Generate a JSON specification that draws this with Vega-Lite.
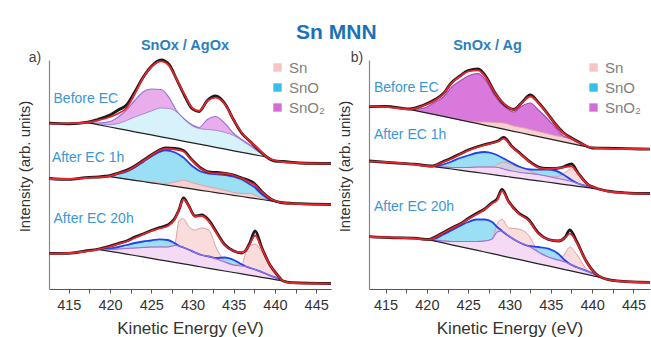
{
"$schema": "https://vega.github.io/schema/vega-lite/v6.json",
"padding": {"left": 17, "top": 22, "right": 0, "bottom": 1},
"title": {"text": "Sn MNN", "fontSize": 21, "fontWeight": "bold", "color": "#1c72b8", "offset": -5, "anchor": "middle"},
"datasets": {
"A": [
{"s":"a1","E":412.6,"fit":165.3,"obs":165.8},
{"s":"a1","E":415,"fit":165.7,"obs":165.2},
{"s":"a1","E":417.3,"fit":166.5,"obs":166.8,"bg":166.3,"o0":166.3,"o1":166.3,"x0":166.3,"x1":166.3},
{"s":"a1","E":418.5,"fit":168.5,"obs":169.5,"bg":164.4,"o0":164.4,"o1":165.2,"x0":165.2,"x1":166},
{"s":"a1","E":420,"fit":172,"obs":174,"bg":162,"o0":162,"o1":164.5,"x0":164.5,"x1":167.5},
{"s":"a1","E":421,"fit":175.5,"obs":179,"bg":160.4,"o0":160.4,"o1":165.5,"x0":165.5,"x1":172},
{"s":"a1","E":422,"fit":181,"obs":184,"bg":158.8,"o0":158.8,"o1":168.5,"x0":168.5,"x1":179},
{"s":"a1","E":423,"fit":195,"obs":197,"bg":157.2,"o0":157.2,"o1":172,"x0":172,"x1":188.5},
{"s":"a1","E":424,"fit":211,"obs":211.5,"bg":155.7,"o0":155.7,"o1":175,"x0":175,"x1":197},
{"s":"a1","E":425,"fit":222,"obs":222.5,"bg":154.1,"o0":154.1,"o1":178,"x0":178,"x1":200},
{"s":"a1","E":426.2,"fit":227.7,"obs":229,"bg":152.2,"o0":152.2,"o1":181,"x0":181,"x1":199.5},
{"s":"a1","E":427.2,"fit":223,"obs":224,"bg":150.6,"o0":150.6,"o1":180.5,"x0":180.5,"x1":191},
{"s":"a1","E":428,"fit":211,"obs":211,"bg":149.3,"o0":149.3,"o1":177.5,"x0":177.5,"x1":179},
{"s":"a1","E":429,"fit":195,"obs":194,"bg":147.7,"o0":147.7,"o1":170,"x0":170,"x1":170},
{"s":"a1","E":430,"fit":181,"obs":180,"bg":146.1,"o0":146.1,"o1":163,"x0":163,"x1":164},
{"s":"a1","E":430.8,"fit":178,"obs":177.5,"bg":144.9,"o0":144.9,"o1":160.5,"x0":160.5,"x1":161.5},
{"s":"a1","E":431.8,"fit":188,"obs":188.5,"bg":143.3,"o0":143.3,"o1":159.5,"x0":159.5,"x1":169.5},
{"s":"a1","E":432.8,"fit":191.3,"obs":193,"bg":141.7,"o0":141.7,"o1":158.7,"x0":158.7,"x1":172.5},
{"s":"a1","E":434,"fit":184,"obs":184.5,"bg":139.8,"o0":139.8,"o1":156.5,"x0":156.5,"x1":165},
{"s":"a1","E":435,"fit":169,"obs":169,"bg":138.2,"o0":138.2,"o1":153.5,"x0":153.5,"x1":155.5},
{"s":"a1","E":436,"fit":156,"obs":155.5,"bg":136.7,"o0":136.7,"o1":148.5,"x0":148.5,"x1":149.5},
{"s":"a1","E":437,"fit":147.5,"obs":147.5,"bg":135.1,"o0":135.1,"o1":143,"x0":143,"x1":144},
{"s":"a1","E":438,"fit":140,"obs":139.5,"bg":133.5,"o0":133.5,"o1":137,"x0":137,"x1":137.5},
{"s":"a1","E":439,"fit":132,"obs":132,"bg":132,"o0":132,"o1":132,"x0":132,"x1":132},
{"s":"a1","E":440,"fit":128.5,"obs":128},
{"s":"a1","E":441,"fit":127,"obs":127.5},
{"s":"a1","E":443,"fit":126,"obs":126},
{"s":"a1","E":446.8,"fit":125.3,"obs":125.5},
{"s":"a2","E":412.6,"fit":110,"obs":110.5},
{"s":"a2","E":415,"fit":110,"obs":109.6},
{"s":"a2","E":417,"fit":111,"obs":111.3},
{"s":"a2","E":419.8,"fit":112.7,"obs":113,"bg":112.7,"s0":112.7,"s1":112.7,"o0":112.7,"o1":112.7},
{"s":"a2","E":421,"fit":115.5,"obs":116,"bg":111.2,"s0":111.2,"s1":111.2,"o0":111.2,"o1":115},
{"s":"a2","E":422.2,"fit":118.7,"obs":119.5,"bg":109.7,"s0":109.7,"s1":109.7,"o0":109.7,"o1":118},
{"s":"a2","E":423,"fit":122.5,"obs":123,"bg":108.7,"s0":108.7,"s1":108.7,"o0":108.7,"o1":121.5},
{"s":"a2","E":424,"fit":128,"obs":128.5,"bg":107.5,"s0":107.5,"s1":107.7,"o0":107.7,"o1":127},
{"s":"a2","E":425,"fit":133.5,"obs":134,"bg":106.2,"s0":106.2,"s1":106.7,"o0":106.7,"o1":132.5},
{"s":"a2","E":426,"fit":138.5,"obs":139,"bg":105,"s0":105,"s1":106,"o0":106,"o1":137},
{"s":"a2","E":426.7,"fit":140.3,"obs":141,"bg":104.1,"s0":104.1,"s1":105.5,"o0":105.5,"o1":138.7},
{"s":"a2","E":427.9,"fit":139.5,"obs":140.5,"bg":102.6,"s0":102.6,"s1":107,"o0":107,"o1":136.5},
{"s":"a2","E":428.9,"fit":137.5,"obs":138.5,"bg":101.3,"s0":101.3,"s1":108.7,"o0":108.7,"o1":131.5},
{"s":"a2","E":429.9,"fit":129,"obs":129.5,"bg":100.1,"s0":100.1,"s1":106.5,"o0":106.5,"o1":123.5},
{"s":"a2","E":431,"fit":120.5,"obs":121,"bg":98.7,"s0":98.7,"s1":104,"o0":104,"o1":117.5},
{"s":"a2","E":432,"fit":116.5,"obs":117,"bg":97.5,"s0":97.5,"s1":102,"o0":102,"o1":115.5},
{"s":"a2","E":433,"fit":115.5,"obs":116.5,"bg":96.2,"s0":96.2,"s1":100.5,"o0":100.5,"o1":114.7},
{"s":"a2","E":434,"fit":115.5,"obs":115.5,"bg":95,"s0":95,"s1":98.5,"o0":98.5,"o1":114},
{"s":"a2","E":435,"fit":113.5,"obs":114,"bg":93.7,"s0":93.7,"s1":96.5,"o0":96.5,"o1":112.3},
{"s":"a2","E":436,"fit":110.5,"obs":111,"bg":92.5,"s0":92.5,"s1":95.5,"o0":95.5,"o1":109.5},
{"s":"a2","E":437,"fit":106.5,"obs":108,"bg":91.2,"s0":91.2,"s1":95.5,"o0":95.5,"o1":104.5},
{"s":"a2","E":437.5,"fit":104.5,"obs":105.5,"bg":90.6,"s0":90.6,"s1":94,"o0":94,"o1":102},
{"s":"a2","E":438.4,"fit":97,"obs":97.5,"bg":89.5,"s0":89.5,"s1":91,"o0":91,"o1":94.7},
{"s":"a2","E":439.6,"fit":89.5,"obs":89.5,"bg":88,"s0":88,"s1":88,"o0":88,"o1":88.7},
{"s":"a2","E":441.2,"fit":86,"obs":86,"bg":86,"s0":86,"s1":86,"o0":86,"o1":86},
{"s":"a2","E":443,"fit":85,"obs":85.3},
{"s":"a2","E":446.8,"fit":84.3,"obs":84.5},
{"s":"a3","E":412.6,"fit":35.3,"obs":35.6},
{"s":"a3","E":415,"fit":36,"obs":35.6},
{"s":"a3","E":417,"fit":37.5,"obs":38},
{"s":"a3","E":418.6,"fit":39.7,"obs":40,"bg":39.7,"x0":39.7,"x1":39.7,"o0":39.7,"o1":39.7,"s0":39.7,"s1":39.7},
{"s":"a3","E":420,"fit":42.5,"obs":43,"bg":37.7,"x0":37.7,"x1":39.5,"o0":39.5,"o1":40.5,"s0":39.5,"s1":39.5},
{"s":"a3","E":421,"fit":45,"obs":45.5,"bg":36.3,"x0":36.3,"x1":40,"o0":40,"o1":42,"s0":40,"s1":40},
{"s":"a3","E":422,"fit":47.5,"obs":48,"bg":34.9,"x0":34.9,"x1":40.5,"o0":40.5,"o1":44,"s0":40.5,"s1":40.5},
{"s":"a3","E":423,"fit":51,"obs":52,"bg":33.5,"x0":33.5,"x1":41,"o0":41,"o1":46,"s0":41,"s1":41},
{"s":"a3","E":424,"fit":54.5,"obs":55,"bg":32.1,"x0":32.1,"x1":41.5,"o0":41.5,"o1":47.5,"s0":41.5,"s1":41.5},
{"s":"a3","E":425,"fit":58,"obs":58.5,"bg":30.6,"x0":30.6,"x1":42,"o0":42,"o1":48.5,"s0":42,"s1":42},
{"s":"a3","E":426,"fit":60.5,"obs":61.5,"bg":29.2,"x0":29.2,"x1":42,"o0":42,"o1":49.7,"s0":42,"s1":42},
{"s":"a3","E":427,"fit":63,"obs":64,"bg":27.8,"x0":27.8,"x1":42,"o0":42,"o1":49,"s0":42,"s1":42},
{"s":"a3","E":427.8,"fit":69,"obs":70,"bg":26.7,"x0":26.7,"x1":43.5,"o0":43.5,"o1":46,"s0":43.5,"s1":43.5},
{"s":"a3","E":428.4,"fit":80,"obs":80,"bg":25.8,"x0":25.8,"x1":43,"o0":43,"o1":43,"s0":43,"s1":68.7},
{"s":"a3","E":428.9,"fit":89.7,"obs":91,"bg":25.1,"x0":25.1,"x1":41.5,"o0":41.5,"o1":41.5,"s0":41.5,"s1":70.3},
{"s":"a3","E":429.5,"fit":83.5,"obs":84,"bg":24.3,"x0":24.3,"x1":39.5,"o0":39.5,"o1":39.5,"s0":39.5,"s1":63},
{"s":"a3","E":430.3,"fit":72.5,"obs":73,"bg":23.1,"x0":23.1,"x1":36.5,"o0":36.5,"o1":36.5,"s0":36.5,"s1":59},
{"s":"a3","E":431.1,"fit":73,"obs":74,"bg":22,"x0":22,"x1":34,"o0":34,"o1":34,"s0":34,"s1":61},
{"s":"a3","E":432,"fit":67.5,"obs":68.5,"bg":20.7,"x0":20.7,"x1":32.5,"o0":32.5,"o1":32.5,"s0":32.5,"s1":58.7},
{"s":"a3","E":432.9,"fit":56,"obs":57,"bg":19.4,"x0":19.4,"x1":30,"o0":30,"o1":31,"s0":30,"s1":41},
{"s":"a3","E":433.9,"fit":44,"obs":44.5,"bg":18,"x0":18,"x1":27,"o0":27,"o1":31.5,"s0":27,"s1":28},
{"s":"a3","E":435,"fit":38,"obs":38,"bg":16.5,"x0":16.5,"x1":24,"o0":24,"o1":29,"s0":24,"s1":24},
{"s":"a3","E":436,"fit":36.5,"obs":36,"bg":15.1,"x0":15.1,"x1":23,"o0":23,"o1":24.5,"s0":23,"s1":25},
{"s":"a3","E":436.5,"fit":39,"obs":39,"bg":14.4,"x0":14.4,"x1":22.5,"o0":22.5,"o1":22.5,"s0":22.5,"s1":37},
{"s":"a3","E":437,"fit":45.5,"obs":47,"bg":13.7,"x0":13.7,"x1":21,"o0":21,"o1":21,"s0":21,"s1":43},
{"s":"a3","E":437.6,"fit":53.5,"obs":58,"bg":12.8,"x0":12.8,"x1":19.5,"o0":19.5,"o1":19.5,"s0":19.5,"s1":45},
{"s":"a3","E":438.4,"fit":40.5,"obs":41.5,"bg":11.7,"x0":11.7,"x1":17,"o0":17,"o1":17,"s0":17,"s1":37},
{"s":"a3","E":439.4,"fit":24,"obs":24,"bg":10.3,"x0":10.3,"x1":13.5,"o0":13.5,"o1":13.5,"s0":13.5,"s1":23},
{"s":"a3","E":440.2,"fit":15,"obs":15,"bg":9.1,"x0":9.1,"x1":11,"o0":11,"o1":11,"s0":11,"s1":14.5},
{"s":"a3","E":441,"fit":8,"obs":8,"bg":8,"x0":8,"x1":8,"o0":8,"o1":8,"s0":8,"s1":8},
{"s":"a3","E":442,"fit":6,"obs":6.3},
{"s":"a3","E":446.8,"fit":5.3,"obs":5.5}
],
"B": [
{"s":"b1","E":413,"fit":182.7,"obs":182.4},
{"s":"b1","E":415,"fit":182.2,"obs":182.6},
{"s":"b1","E":417.9,"fit":179.7,"obs":180,"bg":179.7,"s0":179.7,"s1":179.7,"x0":179.7,"x1":179.7},
{"s":"b1","E":419.5,"fit":183,"obs":183.5,"bg":176.9,"s0":176.9,"s1":176.9,"x0":176.9,"x1":180.5},
{"s":"b1","E":421,"fit":188.7,"obs":189.5,"bg":174.3,"s0":174.3,"s1":174.3,"x0":174.3,"x1":187},
{"s":"b1","E":422,"fit":195,"obs":195.5,"bg":172.7,"s0":172.7,"s1":172.7,"x0":172.7,"x1":192},
{"s":"b1","E":423,"fit":206,"obs":206.5,"bg":170.9,"s0":170.9,"s1":170.9,"x0":170.9,"x1":202},
{"s":"b1","E":424,"fit":212.5,"obs":213,"bg":169.1,"s0":169.1,"s1":169.1,"x0":169.1,"x1":208},
{"s":"b1","E":425,"fit":217.5,"obs":218.5,"bg":167.4,"s0":167.4,"s1":168,"x0":168,"x1":213},
{"s":"b1","E":426.2,"fit":218.7,"obs":220,"bg":165.3,"s0":165.3,"s1":167,"x0":167,"x1":215.3},
{"s":"b1","E":427.1,"fit":212,"obs":213,"bg":163.7,"s0":163.7,"s1":167,"x0":167,"x1":209},
{"s":"b1","E":428.3,"fit":195.3,"obs":195.5,"bg":161.6,"s0":161.6,"s1":166.5,"x0":166.5,"x1":192},
{"s":"b1","E":429.3,"fit":185.5,"obs":185,"bg":159.8,"s0":159.8,"s1":166,"x0":166,"x1":183},
{"s":"b1","E":430.5,"fit":179.2,"obs":179.5,"bg":157.7,"s0":157.7,"s1":163,"x0":163,"x1":177},
{"s":"b1","E":431.5,"fit":186,"obs":186.5,"bg":156,"s0":156,"s1":161.5,"x0":161.5,"x1":183},
{"s":"b1","E":432.5,"fit":192.5,"obs":194,"bg":154.2,"s0":154.2,"s1":159.5,"x0":159.5,"x1":186},
{"s":"b1","E":433.5,"fit":186,"obs":186.5,"bg":152.4,"s0":152.4,"s1":157.5,"x0":157.5,"x1":179},
{"s":"b1","E":434.5,"fit":176,"obs":176.5,"bg":150.7,"s0":150.7,"s1":155.5,"x0":155.5,"x1":171},
{"s":"b1","E":435.5,"fit":165.3,"obs":165.5,"bg":148.9,"s0":148.9,"s1":153.5,"x0":153.5,"x1":162},
{"s":"b1","E":436.5,"fit":156,"obs":156.5,"bg":147.2,"s0":147.2,"s1":152,"x0":152,"x1":153},
{"s":"b1","E":437.5,"fit":150.5,"obs":151,"bg":145.4,"s0":145.4,"s1":150,"x0":150,"x1":150},
{"s":"b1","E":438.5,"fit":146,"obs":146.5,"bg":143.6,"s0":143.6,"s1":145.5,"x0":145.5,"x1":145.5},
{"s":"b1","E":440,"fit":141.3,"obs":141,"bg":141,"s0":141,"s1":141,"x0":141,"x1":141},
{"s":"b1","E":441.5,"fit":140.5,"obs":140.8},
{"s":"b1","E":444,"fit":140,"obs":140.3},
{"s":"b1","E":447,"fit":140,"obs":139.8},
{"s":"b2","E":413,"fit":127.7,"obs":128},
{"s":"b2","E":416,"fit":126.5,"obs":126.2},
{"s":"b2","E":418.5,"fit":124.5,"obs":124.8},
{"s":"b2","E":420.6,"fit":122.7,"obs":123,"bg":122.7,"x0":122.7,"x1":122.7,"o0":122.7,"o1":122.7,"s0":122.7,"s1":122.7},
{"s":"b2","E":422,"fit":127,"obs":127.5,"bg":121.1,"x0":121.1,"x1":122,"o0":122,"o1":124.5,"s0":122,"s1":122},
{"s":"b2","E":423,"fit":130.3,"obs":131,"bg":120,"x0":120,"x1":121.5,"o0":121.5,"o1":127.5,"s0":121.5,"s1":121.5},
{"s":"b2","E":424,"fit":134.5,"obs":135,"bg":118.9,"x0":118.9,"x1":121.5,"o0":121.5,"o1":131,"s0":121.5,"s1":121.5},
{"s":"b2","E":425,"fit":138.5,"obs":139,"bg":117.7,"x0":117.7,"x1":121.5,"o0":121.5,"o1":133.5,"s0":121.5,"s1":121.5},
{"s":"b2","E":426,"fit":141.5,"obs":142,"bg":116.6,"x0":116.6,"x1":122,"o0":122,"o1":136,"s0":122,"s1":122},
{"s":"b2","E":427,"fit":144,"obs":144.5,"bg":115.5,"x0":115.5,"x1":122,"o0":122,"o1":137,"s0":122,"s1":122},
{"s":"b2","E":428,"fit":146,"obs":146.5,"bg":114.3,"x0":114.3,"x1":122,"o0":122,"o1":135.5,"s0":122,"s1":122},
{"s":"b2","E":428.6,"fit":147.5,"obs":148,"bg":113.7,"x0":113.7,"x1":121.5,"o0":121.5,"o1":133.5,"s0":121.5,"s1":125},
{"s":"b2","E":429.3,"fit":150.3,"obs":151.5,"bg":112.9,"x0":112.9,"x1":120,"o0":120,"o1":130.5,"s0":120,"s1":127},
{"s":"b2","E":430.3,"fit":142,"obs":142.5,"bg":111.7,"x0":111.7,"x1":118,"o0":118,"o1":126,"s0":118,"s1":124},
{"s":"b2","E":431.3,"fit":135,"obs":135.5,"bg":110.6,"x0":110.6,"x1":116.5,"o0":116.5,"o1":122,"s0":116.5,"s1":121.5},
{"s":"b2","E":432.5,"fit":126.5,"obs":127,"bg":109.2,"x0":109.2,"x1":115.5,"o0":115.5,"o1":119.5,"s0":115.5,"s1":118},
{"s":"b2","E":433.5,"fit":121.5,"obs":122,"bg":108.1,"x0":108.1,"x1":114.5,"o0":114.5,"o1":119.3,"s0":114.5,"s1":114.5},
{"s":"b2","E":434.5,"fit":120,"obs":120.5,"bg":107,"x0":107,"x1":113,"o0":113,"o1":119.3,"s0":113,"s1":113},
{"s":"b2","E":435.5,"fit":120.5,"obs":120.5,"bg":105.8,"x0":105.8,"x1":111,"o0":111,"o1":118.5,"s0":111,"s1":112},
{"s":"b2","E":436.5,"fit":121.5,"obs":122,"bg":104.7,"x0":104.7,"x1":109.5,"o0":109.5,"o1":114.5,"s0":109.5,"s1":115},
{"s":"b2","E":437.5,"fit":122.7,"obs":125,"bg":103.6,"x0":103.6,"x1":107.5,"o0":107.5,"o1":109,"s0":107.5,"s1":120.3},
{"s":"b2","E":438.3,"fit":115.3,"obs":116,"bg":102.7,"x0":102.7,"x1":105.5,"o0":105.5,"o1":105.5,"s0":105.5,"s1":115},
{"s":"b2","E":439.5,"fit":104.5,"obs":104.5,"bg":101.3,"x0":101.3,"x1":102.5,"o0":102.5,"o1":102.5,"s0":102.5,"s1":104},
{"s":"b2","E":440.4,"fit":101,"obs":101,"bg":100.3,"x0":100.3,"x1":100.3,"o0":100.3,"o1":100.3,"s0":100.3,"s1":100.3},
{"s":"b2","E":442,"fit":97.5,"obs":97.8},
{"s":"b2","E":444,"fit":96,"obs":96.2},
{"s":"b2","E":447,"fit":95.3,"obs":95.5},
{"s":"b3","E":413,"fit":52,"obs":52.3},
{"s":"b3","E":416,"fit":51.5,"obs":51.2},
{"s":"b3","E":418.5,"fit":50.5,"obs":50.8},
{"s":"b3","E":420.2,"fit":49.3,"obs":49.5,"bg":49.3,"x0":49.3,"x1":49.3,"o0":49.3,"o1":49.3,"s0":49.3,"s1":49.3},
{"s":"b3","E":421,"fit":51.5,"obs":52,"bg":47.9,"x0":47.9,"x1":48.7,"o0":48.7,"o1":50.3,"s0":48.7,"s1":48.7},
{"s":"b3","E":422,"fit":56,"obs":56.5,"bg":46.1,"x0":46.1,"x1":48,"o0":48,"o1":54.5,"s0":48,"s1":48},
{"s":"b3","E":423,"fit":60.5,"obs":61,"bg":44.2,"x0":44.2,"x1":47.5,"o0":47.5,"o1":58.7,"s0":47.5,"s1":47.5},
{"s":"b3","E":424,"fit":64.5,"obs":65,"bg":42.4,"x0":42.4,"x1":47.5,"o0":47.5,"o1":63,"s0":47.5,"s1":47.5},
{"s":"b3","E":425,"fit":70,"obs":70.5,"bg":40.6,"x0":40.6,"x1":47.5,"o0":47.5,"o1":67,"s0":47.5,"s1":47.5},
{"s":"b3","E":426,"fit":74.5,"obs":75.5,"bg":38.8,"x0":38.8,"x1":47.5,"o0":47.5,"o1":69.5,"s0":47.5,"s1":47.5},
{"s":"b3","E":427,"fit":79.5,"obs":80,"bg":37,"x0":37,"x1":48,"o0":48,"o1":69.5,"s0":48,"s1":48},
{"s":"b3","E":427.9,"fit":85.5,"obs":86.5,"bg":35.4,"x0":35.4,"x1":50,"o0":50,"o1":67,"s0":50,"s1":50},
{"s":"b3","E":428.5,"fit":88.7,"obs":90,"bg":34.3,"x0":34.3,"x1":57,"o0":57,"o1":62,"s0":57,"s1":65},
{"s":"b3","E":429.1,"fit":98,"obs":99.5,"bg":33.2,"x0":33.2,"x1":58,"o0":58,"o1":58,"s0":58,"s1":69.7},
{"s":"b3","E":429.9,"fit":87,"obs":87.5,"bg":31.7,"x0":31.7,"x1":53,"o0":53,"o1":53,"s0":53,"s1":61},
{"s":"b3","E":431.1,"fit":75.3,"obs":76,"bg":29.6,"x0":29.6,"x1":47,"o0":47,"o1":47,"s0":47,"s1":60},
{"s":"b3","E":432.3,"fit":68.7,"obs":69.5,"bg":27.4,"x0":27.4,"x1":43,"o0":43,"o1":43,"s0":43,"s1":54},
{"s":"b3","E":433.5,"fit":55.3,"obs":56,"bg":25.2,"x0":25.2,"x1":37,"o0":37,"o1":42,"s0":37,"s1":37},
{"s":"b3","E":434.7,"fit":49.5,"obs":49.5,"bg":23.1,"x0":23.1,"x1":32,"o0":32,"o1":40.3,"s0":32,"s1":32},
{"s":"b3","E":435.9,"fit":48,"obs":48,"bg":20.9,"x0":20.9,"x1":29,"o0":29,"o1":35.3,"s0":29,"s1":29},
{"s":"b3","E":436.7,"fit":51,"obs":51.5,"bg":19.4,"x0":19.4,"x1":27,"o0":27,"o1":28.7,"s0":27,"s1":35},
{"s":"b3","E":437.3,"fit":55.3,"obs":59,"bg":18.4,"x0":18.4,"x1":25,"o0":25,"o1":25,"s0":25,"s1":42},
{"s":"b3","E":438.1,"fit":47,"obs":48,"bg":16.9,"x0":16.9,"x1":22,"o0":22,"o1":22,"s0":22,"s1":35},
{"s":"b3","E":439.2,"fit":28.7,"obs":29,"bg":14.9,"x0":14.9,"x1":18.5,"o0":18.5,"o1":18.5,"s0":18.5,"s1":21},
{"s":"b3","E":440.4,"fit":15.3,"obs":15.5,"bg":12.7,"x0":12.7,"x1":14.5,"o0":14.5,"o1":14.5,"s0":14.5,"s1":14.5},
{"s":"b3","E":441.2,"fit":11.3,"obs":11.3,"bg":11.3,"x0":11.3,"x1":11.3,"o0":11.3,"o1":11.3,"s0":11.3,"s1":11.3},
{"s":"b3","E":443,"fit":8,"obs":8.2},
{"s":"b3","E":447,"fit":6.5,"obs":6.6}
],
"LA": [{"E":413.15,"I":190.3,"t":"Before EC"},{"E":412.95,"I":131.3,"t":"After EC 1h"},{"E":413.15,"I":70.3,"t":"After EC 20h"}],
"LB": [{"E":413.6,"I":201.3,"t":"Before EC"},{"E":413.6,"I":153.7,"t":"After EC 1h"},{"E":413.6,"I":82,"t":"After EC 20h"}],
"PA": [{"E":410.9,"I":231.5,"t":"a)"}],
"PB": [{"E":411.55,"I":231.5,"t":"b)"}]
},
"hconcat": [
{
"width": 282, "height": 229,
"title": {"text": "SnOx / AgOx", "fontSize": 14.5, "fontWeight": "bold", "color": "#2a7fc0", "offset": -3, "dx": -5, "anchor": "middle"},
"data": {"name": "A"},
"encoding": {"x": {"field": "E", "type": "quantitative", "scale": {"domain": [412.6, 446.8], "nice": false, "zero": false}, "title": "Kinetic Energy (eV)", "axis": {"values": [415,417.5,420,422.5,425,427.5,430,432.5,435,437.5,440,442.5,445], "labelExpr": "datum.value % 5 === 0 ? format(datum.value, 'd') : ''"}}},
"layer": [
{"mark": {"type": "area", "interpolate": "monotone"}, "encoding": {"y": {"field": "x1", "type": "quantitative", "scale": {"domain": [0, 229], "nice": false, "zero": false}, "title": "Intensity (arb. units)"}, "y2": {"field": "x0"}, "detail": {"field": "s"}, "color": {"datum": "SnO₂", "scale": {"domain": ["Sn", "SnO", "SnO₂"], "range": ["#f7c4c4", "#36bfe8", "#d66ad8"]}, "legend": {"title": null, "orient": "none", "legendX": 221, "legendY": 0}}, "fillOpacity": {"condition": [{"test": "datum.s === 'a1'", "value": 0.55}, {"test": "datum.s === 'b1'", "value": 0.9}], "value": 0.25}}},
{"mark": {"type": "area", "interpolate": "monotone"}, "encoding": {"y": {"field": "o1", "type": "quantitative", "scale": {"domain": [0, 229], "nice": false, "zero": false}, "title": "Intensity (arb. units)"}, "y2": {"field": "o0"}, "detail": {"field": "s"}, "color": {"datum": "SnO", "scale": {"domain": ["Sn", "SnO", "SnO₂"], "range": ["#f7c4c4", "#36bfe8", "#d66ad8"]}, "legend": {"title": null, "orient": "none", "legendX": 221, "legendY": 0}}, "fillOpacity": {"condition": {"test": "datum.s === 'a1'", "value": 0.2}, "value": 0.5}}},
{"mark": {"type": "area", "interpolate": "monotone"}, "encoding": {"y": {"field": "s1", "type": "quantitative", "scale": {"domain": [0, 229], "nice": false, "zero": false}, "title": "Intensity (arb. units)"}, "y2": {"field": "s0"}, "detail": {"field": "s"}, "color": {"datum": "Sn", "scale": {"domain": ["Sn", "SnO", "SnO₂"], "range": ["#f7c4c4", "#36bfe8", "#d66ad8"]}, "legend": {"title": null, "orient": "none", "legendX": 221, "legendY": 0}}, "fillOpacity": {"condition": {"test": "datum.s === 'a2' || datum.s === 'b1'", "value": 0.8}, "value": 0.6}}},
{"mark": {"type": "line", "interpolate": "monotone", "strokeWidth": 1, "color": "#dca0a6"}, "encoding": {"y": {"field": "s1", "type": "quantitative", "scale": {"domain": [0, 229], "nice": false, "zero": false}, "title": "Intensity (arb. units)"}, "detail": {"field": "s"}}},
{"mark": {"type": "line", "interpolate": "monotone"}, "encoding": {"y": {"field": "o1", "type": "quantitative", "scale": {"domain": [0, 229], "nice": false, "zero": false}, "title": "Intensity (arb. units)"}, "detail": {"field": "s"}, "stroke": {"condition": {"test": "datum.s === 'a1'", "value": "#a58bd6"}, "value": "#2242ee"}, "strokeWidth": {"condition": {"test": "datum.s === 'a1'", "value": 1}, "value": 1.8}}},
{"mark": {"type": "line", "interpolate": "monotone", "strokeWidth": 1.2}, "encoding": {"y": {"field": "x1", "type": "quantitative", "scale": {"domain": [0, 229], "nice": false, "zero": false}, "title": "Intensity (arb. units)"}, "detail": {"field": "s"}, "stroke": {"condition": {"test": "datum.s === 'b1'", "value": "#a84cb8"}, "value": "#9a72e0"}}},
{"mark": {"type": "line", "strokeWidth": 1.2, "color": "#222222"}, "encoding": {"y": {"field": "bg", "type": "quantitative", "scale": {"domain": [0, 229], "nice": false, "zero": false}, "title": "Intensity (arb. units)"}, "detail": {"field": "s"}}},
{"mark": {"type": "line", "interpolate": "monotone", "strokeWidth": 2.8, "color": "#1a1a1a"}, "encoding": {"y": {"field": "obs", "type": "quantitative", "scale": {"domain": [0, 229], "nice": false, "zero": false}, "title": "Intensity (arb. units)"}, "detail": {"field": "s"}}},
{"mark": {"type": "line", "interpolate": "monotone", "strokeWidth": 1.8, "color": "#e8232b"}, "encoding": {"y": {"field": "fit", "type": "quantitative", "scale": {"domain": [0, 229], "nice": false, "zero": false}, "title": "Intensity (arb. units)"}, "detail": {"field": "s"}}},
{"data": {"name": "LA"}, "mark": {"type": "text", "align": "left", "baseline": "middle", "fontSize": 14, "color": "#3a96d6"}, "encoding": {"y": {"field": "I", "type": "quantitative", "scale": {"domain": [0, 229], "nice": false, "zero": false}, "title": "Intensity (arb. units)"}, "text": {"field": "t"}}},
{"data": {"name": "PA"}, "mark": {"type": "text", "align": "center", "baseline": "middle", "fontSize": 14, "color": "#444444"}, "encoding": {"y": {"field": "I", "type": "quantitative", "scale": {"domain": [0, 229], "nice": false, "zero": false}, "title": "Intensity (arb. units)"}, "text": {"field": "t"}}}
]
},
{
"width": 281, "height": 229,
"title": {"text": "SnOx / Ag", "fontSize": 14.5, "fontWeight": "bold", "color": "#2a7fc0", "offset": -3, "dx": -22, "anchor": "middle"},
"data": {"name": "B"},
"encoding": {"x": {"field": "E", "type": "quantitative", "scale": {"domain": [413.0, 447.0], "nice": false, "zero": false}, "title": "Kinetic Energy (eV)", "axis": {"values": [415,417.5,420,422.5,425,427.5,430,432.5,435,437.5,440,442.5,445], "labelExpr": "datum.value % 5 === 0 ? format(datum.value, 'd') : ''"}}},
"layer": [
{"mark": {"type": "area", "interpolate": "monotone"}, "encoding": {"y": {"field": "x1", "type": "quantitative", "scale": {"domain": [0, 229], "nice": false, "zero": false}, "title": "Intensity (arb. units)"}, "y2": {"field": "x0"}, "detail": {"field": "s"}, "color": {"datum": "SnO₂", "scale": {"domain": ["Sn", "SnO", "SnO₂"], "range": ["#f7c4c4", "#36bfe8", "#d66ad8"]}, "legend": {"title": null, "orient": "none", "legendX": 217, "legendY": 0}}, "fillOpacity": {"condition": [{"test": "datum.s === 'a1'", "value": 0.55}, {"test": "datum.s === 'b1'", "value": 0.9}], "value": 0.25}}},
{"mark": {"type": "area", "interpolate": "monotone"}, "encoding": {"y": {"field": "o1", "type": "quantitative", "scale": {"domain": [0, 229], "nice": false, "zero": false}, "title": "Intensity (arb. units)"}, "y2": {"field": "o0"}, "detail": {"field": "s"}, "color": {"datum": "SnO", "scale": {"domain": ["Sn", "SnO", "SnO₂"], "range": ["#f7c4c4", "#36bfe8", "#d66ad8"]}, "legend": {"title": null, "orient": "none", "legendX": 217, "legendY": 0}}, "fillOpacity": {"condition": {"test": "datum.s === 'a1'", "value": 0.2}, "value": 0.5}}},
{"mark": {"type": "area", "interpolate": "monotone"}, "encoding": {"y": {"field": "s1", "type": "quantitative", "scale": {"domain": [0, 229], "nice": false, "zero": false}, "title": "Intensity (arb. units)"}, "y2": {"field": "s0"}, "detail": {"field": "s"}, "color": {"datum": "Sn", "scale": {"domain": ["Sn", "SnO", "SnO₂"], "range": ["#f7c4c4", "#36bfe8", "#d66ad8"]}, "legend": {"title": null, "orient": "none", "legendX": 217, "legendY": 0}}, "fillOpacity": {"condition": {"test": "datum.s === 'a2' || datum.s === 'b1'", "value": 0.8}, "value": 0.6}}},
{"mark": {"type": "line", "interpolate": "monotone", "strokeWidth": 1, "color": "#dca0a6"}, "encoding": {"y": {"field": "s1", "type": "quantitative", "scale": {"domain": [0, 229], "nice": false, "zero": false}, "title": "Intensity (arb. units)"}, "detail": {"field": "s"}}},
{"mark": {"type": "line", "interpolate": "monotone"}, "encoding": {"y": {"field": "o1", "type": "quantitative", "scale": {"domain": [0, 229], "nice": false, "zero": false}, "title": "Intensity (arb. units)"}, "detail": {"field": "s"}, "stroke": {"condition": {"test": "datum.s === 'a1'", "value": "#a58bd6"}, "value": "#2242ee"}, "strokeWidth": {"condition": {"test": "datum.s === 'a1'", "value": 1}, "value": 1.8}}},
{"mark": {"type": "line", "interpolate": "monotone", "strokeWidth": 1.2}, "encoding": {"y": {"field": "x1", "type": "quantitative", "scale": {"domain": [0, 229], "nice": false, "zero": false}, "title": "Intensity (arb. units)"}, "detail": {"field": "s"}, "stroke": {"condition": {"test": "datum.s === 'b1'", "value": "#a84cb8"}, "value": "#9a72e0"}}},
{"mark": {"type": "line", "strokeWidth": 1.2, "color": "#222222"}, "encoding": {"y": {"field": "bg", "type": "quantitative", "scale": {"domain": [0, 229], "nice": false, "zero": false}, "title": "Intensity (arb. units)"}, "detail": {"field": "s"}}},
{"mark": {"type": "line", "interpolate": "monotone", "strokeWidth": 2.8, "color": "#1a1a1a"}, "encoding": {"y": {"field": "obs", "type": "quantitative", "scale": {"domain": [0, 229], "nice": false, "zero": false}, "title": "Intensity (arb. units)"}, "detail": {"field": "s"}}},
{"mark": {"type": "line", "interpolate": "monotone", "strokeWidth": 1.8, "color": "#e8232b"}, "encoding": {"y": {"field": "fit", "type": "quantitative", "scale": {"domain": [0, 229], "nice": false, "zero": false}, "title": "Intensity (arb. units)"}, "detail": {"field": "s"}}},
{"data": {"name": "LB"}, "mark": {"type": "text", "align": "left", "baseline": "middle", "fontSize": 14, "color": "#3a96d6"}, "encoding": {"y": {"field": "I", "type": "quantitative", "scale": {"domain": [0, 229], "nice": false, "zero": false}, "title": "Intensity (arb. units)"}, "text": {"field": "t"}}},
{"data": {"name": "PB"}, "mark": {"type": "text", "align": "center", "baseline": "middle", "fontSize": 14, "color": "#444444"}, "encoding": {"y": {"field": "I", "type": "quantitative", "scale": {"domain": [0, 229], "nice": false, "zero": false}, "title": "Intensity (arb. units)"}, "text": {"field": "t"}}}
]
}
],
"spacing": 0,
"resolve": {"legend": {"color": "independent"}, "scale": {"color": "independent"}},
"config": {
"font": "Liberation Sans",
"view": {"stroke": null},
"axisX": {"domainColor": "#555555", "tickColor": "#555555", "tickSize": 4, "labelColor": "#333333", "labelFontSize": 14.5, "labelPadding": 5, "titleFontSize": 17, "titleFontWeight": "normal", "titleColor": "#333333", "titlePadding": 9, "grid": false, "labelFlush": false, "labelOverlap": false},
"axisY": {"domainColor": "#888888", "domainWidth": 1.2, "ticks": false, "labels": false, "grid": false, "titleFontSize": 15, "titleFontWeight": "normal", "titleColor": "#333333", "titlePadding": 17, "titleY": 106},
"legend": {"symbolType": "square", "symbolSize": 70, "symbolOpacity": 1, "symbolStrokeWidth": 0, "labelFontSize": 15, "labelColor": "#808080", "rowPadding": 4, "labelOffset": 4, "padding": 0}
}
}
